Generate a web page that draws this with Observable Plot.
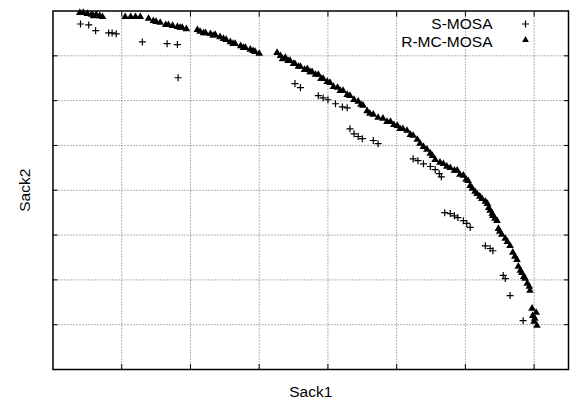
<!DOCTYPE html>
<html>
<head>
<meta charset="utf-8">
<script src="https://cdn.jsdelivr.net/npm/d3@7"></script>
<script src="https://cdn.jsdelivr.net/npm/@observablehq/plot@0.6"></script>
<style>
  html, body { margin: 0; padding: 0; background: #fff; }
</style>
</head>
<body>
<div id="chart"></div>
<script>
const xTicks = [1, 2, 3, 4, 5, 6, 7];
const yTicks = [1, 2, 3, 4, 5, 6, 7];
const seriesNames = ["S-MOSA", "R-MC-MOSA"];

// R-MC-MOSA (triangles)
const rmcX = [0.39,0.44,0.50,0.56,0.59,0.63,0.68,0.72,1.05,1.20,1.27,1.39,1.46,1.56,1.64,1.74,1.81,1.88,1.94,
  2.10,2.14,2.22,2.29,2.36,2.43,2.52,2.58,2.65,2.73,2.80,2.87,2.94,3.00,3.26,3.31,3.38,3.45,3.52,3.60,3.70,
  3.77,3.86,3.93,4.03,4.14,4.22,4.32,4.44,4.51,4.57,4.66,4.80,4.91,5.01,5.09,5.15,5.24,5.34,5.44,5.52,5.56,
  5.68,5.78,5.88,5.97,6.04,6.10,6.17,6.24,6.32,6.36,6.40,6.46,6.48,6.53,6.61,6.65,6.69,6.75,6.77,6.82,6.87,
  6.90,6.94,6.97,6.98,7.01,7.04,
  3.34,3.42,3.50,3.57,3.66,3.74,3.82,3.90,3.99,4.08,4.18,4.28,4.38,4.48,4.61,4.73,4.86,4.96,5.05,5.20,5.30,
  5.39,5.49,5.63,5.73,5.84,5.92,6.01,6.07,6.14,6.21,6.29,6.34,6.39,6.43,6.50,6.58,6.72,6.80,6.85,6.93,7.00,
  7.03,2.19,2.33,2.48,2.62,2.77,2.91,1.13,1.50,1.68,1.85];
const rmcY = [7.96,7.96,7.94,7.92,7.89,7.92,7.89,7.87,7.87,7.87,7.87,7.83,7.78,7.74,7.69,7.67,7.65,7.63,7.60,
  7.58,7.54,7.51,7.49,7.47,7.42,7.36,7.31,7.27,7.22,7.18,7.14,7.09,7.05,7.07,7.00,6.96,6.89,6.82,6.76,6.71,
  6.64,6.58,6.49,6.40,6.29,6.22,6.11,5.98,5.89,5.77,5.69,5.60,5.53,5.44,5.37,5.33,5.22,5.04,4.91,4.77,4.68,
  4.59,4.50,4.44,4.33,4.21,4.04,3.92,3.81,3.70,3.55,3.43,3.32,3.14,3.01,2.85,2.76,2.61,2.45,2.30,2.16,2.03,
  1.92,1.76,1.36,1.20,1.14,0.98,
  6.93,6.89,6.82,6.76,6.69,6.64,6.58,6.49,6.42,6.31,6.22,6.13,6.02,5.91,5.71,5.62,5.53,5.46,5.37,5.24,5.13,
  4.97,4.82,4.62,4.53,4.44,4.35,4.24,4.10,3.97,3.86,3.75,3.61,3.48,3.37,3.08,2.92,2.52,2.21,2.07,1.85,1.07,
  1.27,7.51,7.45,7.38,7.27,7.18,7.11,7.87,7.76,7.69,7.63];

// S-MOSA (plus signs)
const smosaX = [0.40,0.52,0.62,0.81,0.86,0.92,1.30,1.66,1.81,1.82,3.52,3.60,3.86,3.93,4.00,4.11,4.21,4.28,
  4.32,4.38,4.44,4.50,4.66,4.73,5.24,5.31,5.39,5.49,5.56,5.62,5.65,5.70,5.78,5.84,5.89,5.97,6.02,6.07,
  6.29,6.36,6.40,6.55,6.58,6.65,6.84];
const smosaY = [7.71,7.69,7.56,7.51,7.51,7.49,7.31,7.27,7.25,6.51,6.38,6.29,6.11,6.06,6.02,5.93,5.86,5.84,
  5.37,5.26,5.20,5.15,5.11,5.04,4.70,4.66,4.59,4.53,4.46,4.37,4.30,3.50,3.48,3.43,3.39,3.32,3.26,3.17,
  2.76,2.70,2.65,2.10,2.03,1.65,1.09];

const rmc = rmcX.map((x, i) => ({x, y: rmcY[i]}));
const smosa = smosaX.map((x, i) => ({x, y: smosaY[i]}));

const gridStyle = {stroke: "#000", strokeOpacity: 0.6, strokeDasharray: "1,2", strokeWidth: 1};
const tickStyle = {tickSize: -5, tickFormat: () => "", label: null, stroke: "#000"};
const plusR = 2.4, triR = 2.85;

const chart = Plot.plot({
  width: 579,
  height: 403,
  marginLeft: 52.5,
  marginRight: 11,
  marginTop: 10.5,
  marginBottom: 34,
  x: {domain: [0, 7.5]},
  y: {domain: [0, 8]},
  style: {fontFamily: "'Liberation Sans', Arial, sans-serif", fontSize: "15.5px", background: "#fff", color: "#000"},
  marks: [
    Plot.gridX(xTicks, gridStyle),
    Plot.gridY(yTicks, gridStyle),
    Plot.axisX(xTicks, {anchor: "bottom", ...tickStyle}),
    Plot.axisX(xTicks, {anchor: "top", ...tickStyle}),
    Plot.axisY(yTicks, {anchor: "left", ...tickStyle}),
    Plot.axisY(yTicks, {anchor: "right", ...tickStyle}),
    Plot.frame({stroke: "#000", strokeWidth: 1.5}),
    Plot.dot(smosa, {x: "x", y: "y", symbol: "plus", r: plusR, stroke: "#000", strokeWidth: 1.2}),
    Plot.dot(rmc, {x: "x", y: "y", symbol: "triangle", r: triR, fill: "#000", stroke: "none"}),
    // axis titles
    Plot.text(["Sack1"], {frameAnchor: "bottom", dy: 23, text: d => d, textAnchor: "middle", lineAnchor: "middle", fill: "#000"}),
    Plot.text(["Sack2"], {frameAnchor: "left", dx: -27.5, rotate: -90, text: d => d, textAnchor: "middle", lineAnchor: "middle", fill: "#000"}),
    // legend
    Plot.text([seriesNames[0]], {frameAnchor: "top-right", dx: -76, dy: 13, text: d => d, textAnchor: "end", lineAnchor: "middle", fill: "#000"}),
    Plot.text([seriesNames[1]], {frameAnchor: "top-right", dx: -76, dy: 31, text: d => d, textAnchor: "end", lineAnchor: "middle", fill: "#000"}),
    Plot.dot([seriesNames[0]], {frameAnchor: "top-right", dx: -43, dy: 13, symbol: "plus", r: plusR, stroke: "#000", strokeWidth: 1.2}),
    Plot.dot([seriesNames[1]], {frameAnchor: "top-right", dx: -43, dy: 29, symbol: "triangle", r: 2.5, fill: "#000", stroke: "none"})
  ]
});
document.getElementById("chart").appendChild(chart);
</script>
</body>
</html>
